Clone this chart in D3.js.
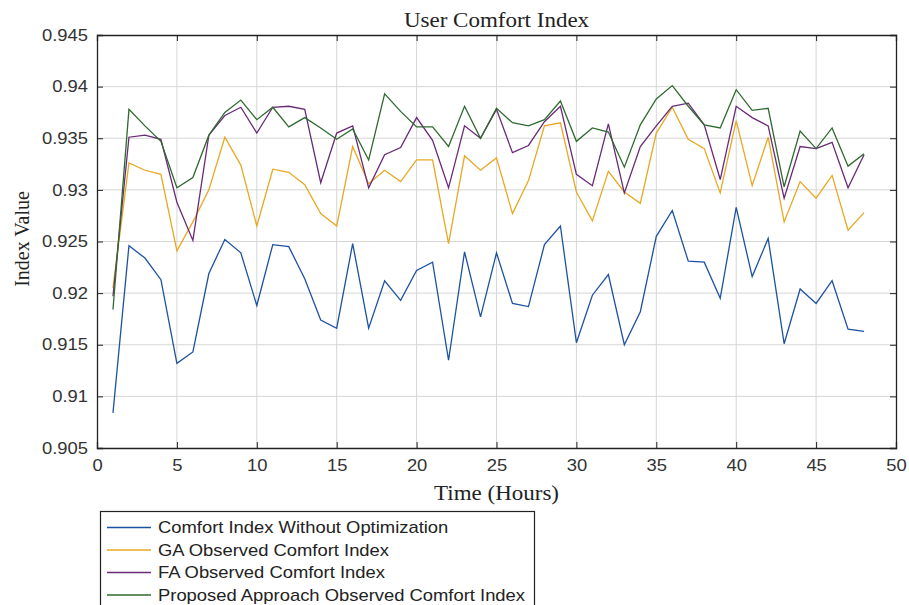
<!DOCTYPE html>
<html>
<head>
<meta charset="utf-8">
<script src="https://cdn.jsdelivr.net/npm/d3@7"></script>
<style>
  body { margin: 0; background: #fff; }
  svg { display: block; }
</style>
</head>
<body>
<div id="chart"></div>
<script>
// hours 1..48
const hours = d3.range(1, 49);

const noOpt = [0.9084, 0.9246, 0.9234, 0.9213, 0.9132, 0.9143, 0.9219, 0.9252, 0.9239, 0.9188,
  0.9247, 0.9245, 0.9214, 0.9174, 0.9166, 0.9248, 0.9166, 0.9212, 0.9193, 0.9222,
  0.9230, 0.9135, 0.9240, 0.9177, 0.9239, 0.9190, 0.9187, 0.9247, 0.9265, 0.9152,
  0.9198, 0.9218, 0.9150, 0.9182, 0.9255, 0.9280, 0.9231, 0.9230, 0.9195, 0.9283,
  0.9216, 0.9253, 0.9151, 0.9204, 0.9190, 0.9212, 0.9165, 0.9163];

const gaIdx = [0.9205, 0.9326, 0.9319, 0.9315, 0.9241, 0.9269, 0.9300, 0.9351, 0.9324, 0.9265,
  0.9320, 0.9317, 0.9305, 0.9277, 0.9265, 0.9342, 0.9306, 0.9319, 0.9308, 0.9329,
  0.9329, 0.9248, 0.9333, 0.9319, 0.9331, 0.9277, 0.9309, 0.9362, 0.9365, 0.9298,
  0.9270, 0.9318, 0.9298, 0.9287, 0.9355, 0.9380, 0.9349, 0.9340, 0.9297, 0.9367,
  0.9304, 0.9351, 0.9269, 0.9308, 0.9292, 0.9314, 0.9261, 0.9278];

const faIdx = [0.9197, 0.9351, 0.9353, 0.9349, 0.9288, 0.9251, 0.9353, 0.9372, 0.9380, 0.9355,
  0.9380, 0.9381, 0.9378, 0.9307, 0.9355, 0.9362, 0.9302, 0.9334, 0.9341, 0.9370,
  0.9348, 0.9302, 0.9362, 0.9350, 0.9378, 0.9336, 0.9343, 0.9366, 0.9381, 0.9315,
  0.9304, 0.9364, 0.9297, 0.9342, 0.9362, 0.9381, 0.9384, 0.9363, 0.9310, 0.9381,
  0.9370, 0.9362, 0.9292, 0.9342, 0.9340, 0.9346, 0.9302, 0.9334];

const propIdx = [0.9184, 0.9378, 0.9362, 0.9347, 0.9302, 0.9312, 0.9353, 0.9375, 0.9387, 0.9368,
  0.9380, 0.9361, 0.9370, 0.9360, 0.9349, 0.9359, 0.9329, 0.9393, 0.9376, 0.9361,
  0.9361, 0.9342, 0.9381, 0.9350, 0.9379, 0.9365, 0.9362, 0.9368, 0.9386, 0.9347,
  0.9360, 0.9356, 0.9322, 0.9363, 0.9388, 0.9401, 0.9381, 0.9363, 0.9360, 0.9397,
  0.9377, 0.9379, 0.9303, 0.9357, 0.9340, 0.9360, 0.9323, 0.9335];

const seriesNames = ["Comfort Index Without Optimization", "GA Observed Comfort Index",
  "FA Observed Comfort Index", "Proposed Approach Observed Comfort Index"];
const seriesColors = ["#1d52a1", "#e8a823", "#6a2a78", "#2f6a2f"];
const xTicks = d3.range(0, 51, 5);
const yTicks = [0.905, 0.91, 0.915, 0.92, 0.925, 0.93, 0.935, 0.94, 0.945];

const allSeries = [noOpt, gaIdx, faIdx, propIdx];

const W = 909, H = 605;
const mLeft = 97, mRight = 896, mTop = 35, mBottom = 448;
const SX = 1.15; // the original figure is a bit wider than tall, text looks stretched
const serif = "Liberation Serif, Times New Roman, serif";
const sans = "Liberation Sans, Arial, sans-serif";

const svg = d3.select("#chart").append("svg")
  .attr("width", W).attr("height", H);

const x = d3.scaleLinear().domain([0, 50]).range([mLeft, mRight]);
const y = d3.scaleLinear().domain([0.905, 0.945]).range([mBottom, mTop]);

// stretched text helper
function label(px, py, txt, font, size, anchor, rot) {
  const tr = rot ? `translate(${px},${py}) rotate(${rot})` : `translate(${px},${py}) scale(${SX},1)`;
  return svg.append("text")
    .attr("transform", tr)
    .attr("text-anchor", anchor || "middle")
    .style("font-family", font).style("font-size", size + "px")
    .attr("fill", "#222")
    .text(txt);
}

// grid
svg.append("g").selectAll("line")
  .data(xTicks.slice(1, -1)).enter().append("line")
  .attr("x1", d => x(d)).attr("x2", d => x(d))
  .attr("y1", mTop).attr("y2", mBottom)
  .attr("stroke", "#d6d6d6").attr("stroke-width", 1);
svg.append("g").selectAll("line")
  .data(yTicks.slice(1, -1)).enter().append("line")
  .attr("x1", mLeft).attr("x2", mRight)
  .attr("y1", d => y(d)).attr("y2", d => y(d))
  .attr("stroke", "#d6d6d6").attr("stroke-width", 1);

// axes (ticks inward, mirrored on top/right)
const fmtY = d => String(+d.toFixed(3));
const axB = svg.append("g").attr("transform", `translate(0,${mBottom})`)
  .call(d3.axisBottom(x).tickValues(xTicks).tickSize(-6).tickPadding(12).tickFormat(d3.format("d")));
const axT = svg.append("g").attr("transform", `translate(0,${mTop})`)
  .call(d3.axisTop(x).tickValues(xTicks).tickSize(-6).tickFormat(""));
const axL = svg.append("g").attr("transform", `translate(${mLeft},0)`)
  .call(d3.axisLeft(y).tickValues(yTicks).tickSize(-6).tickPadding(9).tickFormat(fmtY));
const axR = svg.append("g").attr("transform", `translate(${mRight},0)`)
  .call(d3.axisRight(y).tickValues(yTicks).tickSize(-6).tickFormat(""));

[axB, axT, axL, axR].forEach(a => {
  a.selectAll("path.domain").attr("stroke", "#222").attr("stroke-width", 1.3);
  a.selectAll(".tick line").attr("stroke", "#222");
  a.selectAll("text").attr("fill", "#333")
    .style("font-family", sans).style("font-size", "16px");
});
axB.selectAll(".tick text").attr("transform", `scale(${SX},1)`);
axL.selectAll(".tick text").attr("transform", `translate(-9,0) scale(${SX},1) translate(9,0)`);

// lines
const line = d3.line().x((d, i) => x(hours[i])).y(d => y(d));
svg.append("g").selectAll("path")
  .data(allSeries).enter().append("path")
  .attr("d", line)
  .attr("fill", "none")
  .attr("stroke", (d, i) => seriesColors[i])
  .attr("stroke-width", 1.3);

// titles
label((mLeft + mRight) / 2, 27, "User Comfort Index", serif, 20);
label((mLeft + mRight) / 2, 500, "Time (Hours)", serif, 20);
label(29, 239, "Index Value", serif, 20, "middle", -90);

// legend
const lg = svg.append("g");
lg.append("rect").attr("x", 100.5).attr("y", 511.5).attr("width", 434).attr("height", 110)
  .attr("fill", "#fff").attr("stroke", "#222").attr("stroke-width", 1.2);
seriesNames.forEach((name, i) => {
  const yy = 527.5 + i * 22.5;
  lg.append("line").attr("x1", 107).attr("x2", 151).attr("y1", yy).attr("y2", yy)
    .attr("stroke", seriesColors[i]).attr("stroke-width", 1.3);
  lg.append("text").attr("transform", `translate(158,${yy + 5.5}) scale(${SX},1)`)
    .style("font-family", sans).style("font-size", "16px")
    .attr("fill", "#222")
    .text(name);
});
</script>
</body>
</html>
